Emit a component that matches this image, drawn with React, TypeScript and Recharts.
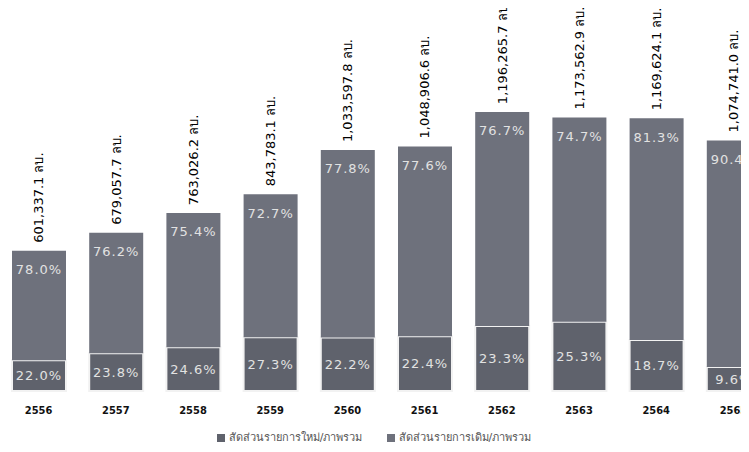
import React from 'react';
import { BarChart, Bar, XAxis, YAxis, Legend, LabelList } from 'recharts';

// fiscal years (Thai calendar)
const years = ['2556', '2557', '2558', '2559', '2560', '2561', '2562', '2563', '2564', '2565'];
// total value per year, million baht
const totals = [
  601337.1, 679057.7, 763026.2, 843783.1, 1033597.8,
  1048906.6, 1196265.7, 1173562.9, 1169624.1, 1074741.0
];
// share of new items / total (%)
const newShare = [22.0, 23.8, 24.6, 27.3, 22.2, 22.4, 23.3, 25.3, 18.7, 9.6];
// share of existing items / total (%)
const oldShare = [78.0, 76.2, 75.4, 72.7, 77.8, 77.6, 76.7, 74.7, 81.3, 90.4];

const NEW_COLOR = '#5f626c';
const OLD_COLOR = '#6e717c';

const data = years.map((year, i) => ({
  year,
  total: totals[i],
  newPct: newShare[i],
  oldPct: oldShare[i],
  newValue: (totals[i] * newShare[i]) / 100,
  oldValue: (totals[i] * oldShare[i]) / 100
}));

const pctLabel = (v: any) => `${Number(v).toFixed(1)}%`;

// rotated total label sitting above the stack
const TotalLabel = (props: any) => {
  const { x, y, width, value } = props;
  const cx = Number(x) + Number(width) / 2;
  const ty = Number(y) - 8;
  const text = `${Number(value).toLocaleString('en-US', {
    minimumFractionDigits: 1,
    maximumFractionDigits: 1
  })} ลบ.`;
  return (
    <text
      x={cx}
      y={ty}
      transform={`rotate(-90, ${cx}, ${ty})`}
      textAnchor="start"
      dominantBaseline="central"
      fontSize={13}
      fill="#000"
      fontFamily="'DejaVu Sans', sans-serif"
    >
      {text}
    </text>
  );
};

export default function App() {
  return (
    <div style={{ margin: -8, width: 749, height: 452, overflow: 'hidden', background: '#fff' }}>
      <BarChart
        width={774}
        height={452}
        data={data}
        margin={{ top: 18, right: 2, bottom: 7, left: 0 }}
        barSize={54}
      >
        <XAxis
          dataKey="year"
          axisLine={false}
          tickLine={false}
          tickMargin={9}
          height={30}
          interval={0}
          tick={{ fontSize: 11, fontWeight: 'bold', fill: '#111', fontFamily: "'DejaVu Sans Condensed', sans-serif" }}
        />
        <YAxis hide domain={[0, 1600000]} />
        <Legend
          verticalAlign="bottom"
          height={24}
          iconType="square"
          iconSize={8}
          itemSorter="dataKey"
          wrapperStyle={{ top: 428, fontSize: 11, fontFamily: "'DejaVu Sans', sans-serif", color: '#555' }}
          formatter={(value: any) => <span style={{ color: '#555', paddingRight: 14 }}>{value}</span>}
        />
        <Bar
          dataKey="newValue"
          name="สัดส่วนรายการใหม่/ภาพรวม"
          stackId="a"
          fill={NEW_COLOR}
          stroke="#f2f2f2"
          strokeWidth={2}
          isAnimationActive={false}
        >
          <LabelList
            dataKey="newPct"
            position="center"
            formatter={pctLabel}
            fill="#e2e2e2"
            fontSize={13}
            letterSpacing={1}
            fontFamily="'DejaVu Sans', sans-serif"
          />
        </Bar>
        <Bar
          dataKey="oldValue"
          name="สัดส่วนรายการเดิม/ภาพรวม"
          stackId="a"
          fill={OLD_COLOR}
          isAnimationActive={false}
        >
          <LabelList
            dataKey="oldPct"
            position="insideTop"
            offset={14}
            formatter={pctLabel}
            fill="#e2e2e2"
            fontSize={13}
            letterSpacing={1}
            fontFamily="'DejaVu Sans', sans-serif"
          />
          <LabelList dataKey="total" content={TotalLabel} />
        </Bar>
      </BarChart>
    </div>
  );
}
